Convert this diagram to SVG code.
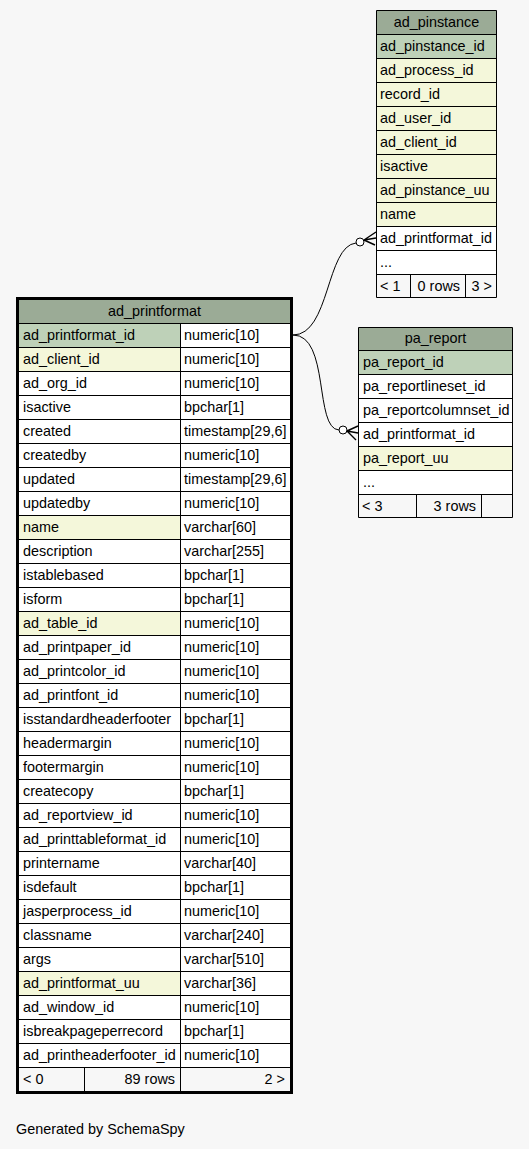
<svg xmlns="http://www.w3.org/2000/svg" width="529" height="1149" viewBox="0 0 529 1149">
<style>
text{font-family:"Liberation Sans",Arial,sans-serif;font-size:14.4px;fill:#000}
.c{text-anchor:middle}
.r{text-anchor:end}
.hd{fill:#9bab96}
.pk{fill:#bed1b8}
.ix{fill:#f4f7da}
.wh{fill:#ffffff}
.ft{fill:#f7f7f7}
.grid{stroke:#000;stroke-width:1;fill:none}
.edge{stroke:#000;stroke-width:1;fill:none}
.crow{stroke:#000;stroke-width:1.4;fill:none}
</style>
<rect width="529" height="1149" fill="#f7f7f7"/>

<g id="connectors">
<path class="edge" d="M293,335 C330,335 326,246 356,243"/>
<circle cx="360" cy="242" r="4" fill="#fff" stroke="#000"/>
<path class="crow" d="M364,240 L376,232 M364,240 L376,238 M364,240 L375,245"/>
<path class="edge" d="M293,335 C330,335 314,429 339,430"/>
<circle cx="343" cy="430" r="4" fill="#fff" stroke="#000"/>
<path class="crow" d="M347,431 L358,426 M347,431 L358,433 M347,431 L356,440"/>
</g>

<g id="ad_pinstance">
<rect class="hd" x="376.5" y="10.5" width="120" height="24"/>
<rect class="pk" x="376.5" y="34.5" width="120" height="24"/>
<rect class="ix" x="376.5" y="58.5" width="120" height="168"/>
<rect class="wh" x="376.5" y="226.5" width="120" height="48"/>
<rect class="ft" x="376.5" y="274.5" width="120" height="23"/>
<path class="grid" d="M376.5,10.5 H496.5 V297.5 H376.5 Z M376.5,34.5 H496.5 M376.5,58.5 H496.5 M376.5,82.5 H496.5 M376.5,106.5 H496.5 M376.5,130.5 H496.5 M376.5,154.5 H496.5 M376.5,178.5 H496.5 M376.5,202.5 H496.5 M376.5,226.5 H496.5 M376.5,250.5 H496.5 M376.5,274.5 H496.5 M410.5,274.5 V297.5 M465.5,274.5 V297.5"/>
<text class="c" x="436.5" y="27">ad_pinstance</text>
<text x="380" y="51">ad_pinstance_id</text>
<text x="380" y="75">ad_process_id</text>
<text x="380" y="99">record_id</text>
<text x="380" y="123">ad_user_id</text>
<text x="380" y="147">ad_client_id</text>
<text x="380" y="171">isactive</text>
<text x="380" y="195">ad_pinstance_uu</text>
<text x="380" y="219">name</text>
<text x="380" y="243">ad_printformat_id</text>
<text x="380" y="267">...</text>
<text x="380" y="291">&lt; 1</text>
<text class="r" x="460" y="291">0 rows</text>
<text class="r" x="492" y="291">3 &gt;</text>
</g>

<g id="pa_report">
<rect class="hd" x="358.5" y="327.5" width="154" height="23"/>
<rect class="pk" x="358.5" y="350.5" width="154" height="24"/>
<rect class="wh" x="358.5" y="374.5" width="154" height="72"/>
<rect class="ix" x="358.5" y="446.5" width="154" height="24"/>
<rect class="wh" x="358.5" y="470.5" width="154" height="24"/>
<rect class="ft" x="358.5" y="494.5" width="154" height="23"/>
<path class="grid" d="M358.5,327.5 H512.5 V517.5 H358.5 Z M358.5,350.5 H512.5 M358.5,374.5 H512.5 M358.5,398.5 H512.5 M358.5,422.5 H512.5 M358.5,446.5 H512.5 M358.5,470.5 H512.5 M358.5,494.5 H512.5 M416.5,494.5 V517.5 M481.5,494.5 V517.5"/>
<text class="c" x="435.5" y="343">pa_report</text>
<text x="363" y="367">pa_report_id</text>
<text x="363" y="391">pa_reportlineset_id</text>
<text x="363" y="415">pa_reportcolumnset_id</text>
<text x="363" y="439">ad_printformat_id</text>
<text x="363" y="463">pa_report_uu</text>
<text x="363" y="487">...</text>
<text x="362" y="511">&lt; 3</text>
<text class="r" x="476" y="511">3 rows</text>
</g>

<g id="ad_printformat">
<rect class="hd" x="19" y="300" width="271" height="23"/>
<rect class="wh" x="19" y="323" width="271" height="744"/>
<rect class="pk" x="19" y="323" width="161" height="24"/>
<rect class="ix" x="19" y="347" width="161" height="24"/>
<rect class="ix" x="19" y="515" width="161" height="24"/>
<rect class="ix" x="19" y="611" width="161" height="24"/>
<rect class="ix" x="19" y="971" width="161" height="24"/>
<rect class="ft" x="19" y="1067" width="271" height="24"/>
<path class="grid" d="M19,323.5 H290 M19,347.5 H290 M19,371.5 H290 M19,395.5 H290 M19,419.5 H290 M19,443.5 H290 M19,467.5 H290 M19,491.5 H290 M19,515.5 H290 M19,539.5 H290 M19,563.5 H290 M19,587.5 H290 M19,611.5 H290 M19,635.5 H290 M19,659.5 H290 M19,683.5 H290 M19,707.5 H290 M19,731.5 H290 M19,755.5 H290 M19,779.5 H290 M19,803.5 H290 M19,827.5 H290 M19,851.5 H290 M19,875.5 H290 M19,899.5 H290 M19,923.5 H290 M19,947.5 H290 M19,971.5 H290 M19,995.5 H290 M19,1019.5 H290 M19,1043.5 H290 M19,1067.5 H290 M180.5,323 V1091 M84.5,1067 V1091"/>
<rect x="17.5" y="298.5" width="274" height="794" fill="none" stroke="#000" stroke-width="3"/>
<text class="c" x="154.5" y="316">ad_printformat</text>
<text x="23" y="340">ad_printformat_id</text><text x="184" y="340">numeric[10]</text>
<text x="23" y="364">ad_client_id</text><text x="184" y="364">numeric[10]</text>
<text x="23" y="388">ad_org_id</text><text x="184" y="388">numeric[10]</text>
<text x="23" y="412">isactive</text><text x="184" y="412">bpchar[1]</text>
<text x="23" y="436">created</text><text x="184" y="436">timestamp[29,6]</text>
<text x="23" y="460">createdby</text><text x="184" y="460">numeric[10]</text>
<text x="23" y="484">updated</text><text x="184" y="484">timestamp[29,6]</text>
<text x="23" y="508">updatedby</text><text x="184" y="508">numeric[10]</text>
<text x="23" y="532">name</text><text x="184" y="532">varchar[60]</text>
<text x="23" y="556">description</text><text x="184" y="556">varchar[255]</text>
<text x="23" y="580">istablebased</text><text x="184" y="580">bpchar[1]</text>
<text x="23" y="604">isform</text><text x="184" y="604">bpchar[1]</text>
<text x="23" y="628">ad_table_id</text><text x="184" y="628">numeric[10]</text>
<text x="23" y="652">ad_printpaper_id</text><text x="184" y="652">numeric[10]</text>
<text x="23" y="676">ad_printcolor_id</text><text x="184" y="676">numeric[10]</text>
<text x="23" y="700">ad_printfont_id</text><text x="184" y="700">numeric[10]</text>
<text x="23" y="724">isstandardheaderfooter</text><text x="184" y="724">bpchar[1]</text>
<text x="23" y="748">headermargin</text><text x="184" y="748">numeric[10]</text>
<text x="23" y="772">footermargin</text><text x="184" y="772">numeric[10]</text>
<text x="23" y="796">createcopy</text><text x="184" y="796">bpchar[1]</text>
<text x="23" y="820">ad_reportview_id</text><text x="184" y="820">numeric[10]</text>
<text x="23" y="844">ad_printtableformat_id</text><text x="184" y="844">numeric[10]</text>
<text x="23" y="868">printername</text><text x="184" y="868">varchar[40]</text>
<text x="23" y="892">isdefault</text><text x="184" y="892">bpchar[1]</text>
<text x="23" y="916">jasperprocess_id</text><text x="184" y="916">numeric[10]</text>
<text x="23" y="940">classname</text><text x="184" y="940">varchar[240]</text>
<text x="23" y="964">args</text><text x="184" y="964">varchar[510]</text>
<text x="23" y="988">ad_printformat_uu</text><text x="184" y="988">varchar[36]</text>
<text x="23" y="1012">ad_window_id</text><text x="184" y="1012">numeric[10]</text>
<text x="23" y="1036">isbreakpageperrecord</text><text x="184" y="1036">bpchar[1]</text>
<text x="23" y="1060">ad_printheaderfooter_id</text><text x="184" y="1060">numeric[10]</text>
<text x="23" y="1084">&lt; 0</text>
<text class="r" x="175" y="1084">89 rows</text>
<text class="r" x="285" y="1084">2 &gt;</text>
</g>

<text x="16" y="1134">Generated by SchemaSpy</text>
</svg>
